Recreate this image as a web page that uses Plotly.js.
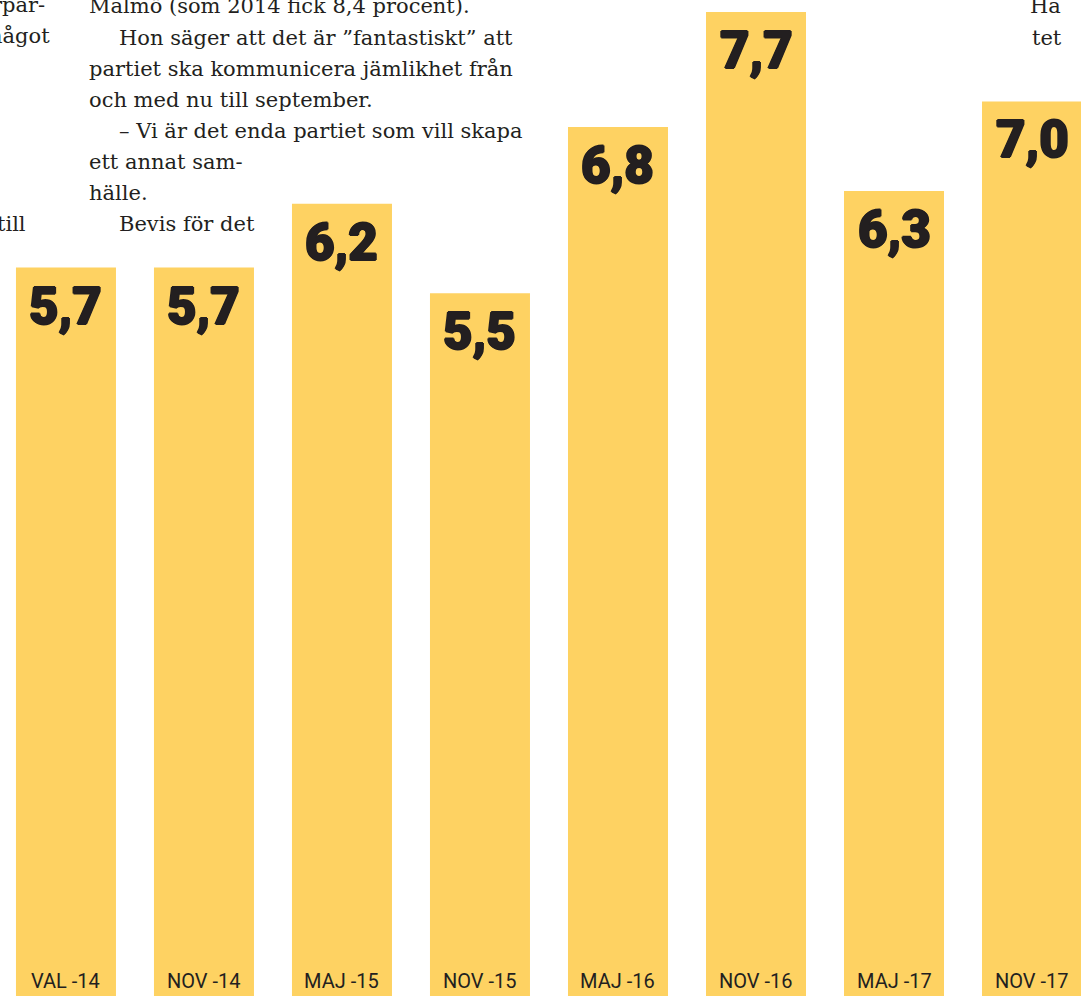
<!DOCTYPE html>
<html>
<head>
<meta charset="utf-8">
<script src="https://cdn.plot.ly/plotly-3.0.1.min.js"></script>
<style>
  html, body { margin: 0; padding: 0; background: #ffffff; }
  #chart { width: 1081px; height: 996px; }
</style>
</head>
<body>
<div id="chart"></div>
<script>
// ---- data ----
const categories = ['VAL -14', 'NOV -14', 'MAJ -15', 'NOV -15', 'MAJ -16', 'NOV -16', 'MAJ -17', 'NOV -17'];
const values = [5.7, 5.7, 6.2, 5.5, 6.8, 7.7, 6.3, 7.0];

// background newspaper text (content)
const leftColumnText = ['rpar-', 'något', 'till'];
const rightColumnText = [
  'Malmö (som 2014 fick 8,4 procent).',
  'Hon säger att det är ”fantastiskt” att',
  'partiet ska kommunicera jämlikhet från',
  'och med nu till september.',
  '– Vi är det enda partiet som vill skapa',
  'ett annat sam-',
  'hälle.',
  'Bevis för det'
];
const farRightText = ['Ha', 'tet'];

// ---- layout helpers ----
const W = 1081, H = 996;
const px = x => x / W;
const py = y => 1 - y / H;
const ink = '#231f20';
const barColor = '#fed262';
const serif = 'DejaVu Serif, Liberation Serif, serif';
const heavy = '1px 0 0 #231f20, -1px 0 0 #231f20, 0 1px 0 #231f20, 0 -1px 0 #231f20';

const annotations = [];

// value labels inside top of bars, category labels inside bottom
categories.forEach((c, i) => {
  annotations.push({
    x: c, y: values[i], xref: 'x', yref: 'y',
    text: values[i].toFixed(1).replace('.', ','),
    showarrow: false, xanchor: 'center', yanchor: 'top', yshift: -7,
    font: { family: 'Roboto, Arial, sans-serif', size: 51, weight: 900, color: ink, shadow: heavy }
  });
  annotations.push({
    x: c, y: 0, xref: 'x', yref: 'y',
    text: c,
    showarrow: false, xanchor: 'center', yanchor: 'bottom', yshift: 1,
    font: { family: 'Roboto, Arial, sans-serif', size: 20, color: ink }
  });
});

// background text placement
const leftPos = [[47, 5], [52, 36], [28, 224]];
leftColumnText.forEach((t, i) => {
  annotations.push({
    x: px(leftPos[i][0]), y: py(leftPos[i][1]), xref: 'paper', yref: 'paper',
    text: t, showarrow: false, xanchor: 'right', yanchor: 'middle',
    font: { family: serif, size: 21, color: ink }
  });
});
const rightIndent = [87, 117, 87, 87, 117, 87, 87, 117];
const rightY = [6, 38, 69, 100, 131, 162, 193, 224];
rightColumnText.forEach((t, i) => {
  annotations.push({
    x: px(rightIndent[i]), y: py(rightY[i]), xref: 'paper', yref: 'paper',
    text: t, showarrow: false, xanchor: 'left', yanchor: 'middle',
    font: { family: serif, size: 21, color: ink }
  });
});
const farPos = [[1028, 6], [1030, 38]];
farRightText.forEach((t, i) => {
  annotations.push({
    x: px(farPos[i][0]), y: py(farPos[i][1]), xref: 'paper', yref: 'paper',
    text: t, showarrow: false, xanchor: 'left', yanchor: 'middle',
    font: { family: serif, size: 21, color: ink }
  });
});

const trace = {
  type: 'bar',
  x: categories,
  y: values,
  marker: { color: barColor, line: { width: 0 } },
  hoverinfo: 'none'
};

const layout = {
  width: W, height: H,
  margin: { l: 0, r: 0, t: 0, b: 0, pad: 0 },
  paper_bgcolor: '#ffffff',
  plot_bgcolor: '#ffffff',
  bargap: 0.2754,
  showlegend: false,
  xaxis: {
    type: 'category', range: [-0.478, 7.355],
    showticklabels: false, showgrid: false, zeroline: false, showline: false, ticks: ''
  },
  yaxis: {
    range: [0, 7.794],
    showticklabels: false, showgrid: false, zeroline: false, showline: false, ticks: ''
  },
  annotations: annotations
};

Plotly.newPlot('chart', [trace], layout, { displayModeBar: false, staticPlot: true });
</script>
</body>
</html>
